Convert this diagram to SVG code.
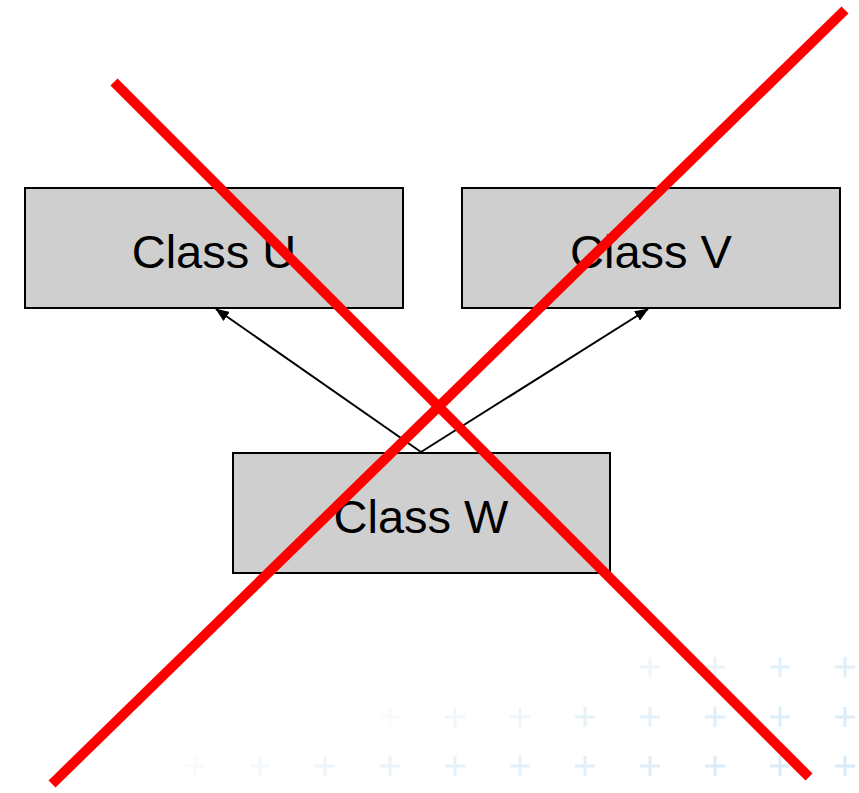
<svg xmlns="http://www.w3.org/2000/svg" width="859" height="793" viewBox="0 0 859 793">
<style>
.box{fill:#cfcfcf;stroke:#000;stroke-width:2}
.lbl{font-family:"Liberation Sans",Arial,sans-serif;font-size:47px;fill:#000;text-anchor:middle}
.edge{stroke:#000;stroke-width:2;fill:none;marker-end:url(#ah)}
.cross{stroke:#ff0000;stroke-width:10;stroke-linecap:butt}
.pl{stroke:#cde6f6;stroke-width:3}
</style>
<defs>
<marker id="ah" viewBox="0 0 14 11" refX="13" refY="5.5" markerWidth="14" markerHeight="11" markerUnits="userSpaceOnUse" orient="auto">
<path d="M0,0 L14,5.5 L0,11 Z" fill="#000"/>
</marker>
<path id="p" d="M-10,0 H10 M0,-10 V10"/>
</defs>
<rect width="859" height="793" fill="#fff"/>
<g id="bg" class="pl">
<use href="#p" x="650" y="667" opacity="0.35"/>
<use href="#p" x="715" y="667" opacity="0.45"/>
<use href="#p" x="780" y="667" opacity="0.55"/>
<use href="#p" x="845" y="667" opacity="0.6"/>
<use href="#p" x="390" y="717" opacity="0.12"/>
<use href="#p" x="455" y="717" opacity="0.28"/>
<use href="#p" x="520" y="717" opacity="0.38"/>
<use href="#p" x="585" y="717" opacity="0.48"/>
<use href="#p" x="650" y="717" opacity="0.55"/>
<use href="#p" x="715" y="717" opacity="0.6"/>
<use href="#p" x="780" y="717" opacity="0.65"/>
<use href="#p" x="845" y="717" opacity="0.7"/>
<use href="#p" x="195" y="766" opacity="0.12"/>
<use href="#p" x="260" y="766" opacity="0.22"/>
<use href="#p" x="325" y="766" opacity="0.32"/>
<use href="#p" x="390" y="766" opacity="0.42"/>
<use href="#p" x="455" y="766" opacity="0.5"/>
<use href="#p" x="520" y="766" opacity="0.55"/>
<use href="#p" x="585" y="766" opacity="0.6"/>
<use href="#p" x="650" y="766" opacity="0.65"/>
<use href="#p" x="715" y="766" opacity="0.7"/>
<use href="#p" x="780" y="766" opacity="0.75"/>
<use href="#p" x="845" y="766" opacity="0.8"/>
</g>
<g id="classU">
<rect class="box" x="25" y="188" width="378" height="120"/>
<text class="lbl" x="214" y="268">Class U</text>
</g>
<g id="classV">
<rect class="box" x="462" y="188" width="378" height="120"/>
<text class="lbl" x="651" y="268">Class V</text>
</g>
<g id="classW">
<rect class="box" x="233" y="453" width="377" height="120"/>
<text class="lbl" x="421" y="533">Class W</text>
</g>
<g id="connectors">
<line class="edge" x1="421" y1="452" x2="216" y2="309"/>
<line class="edge" x1="421" y1="452" x2="648" y2="309"/>
</g>
<g id="cross">
<line class="cross" x1="114" y1="82" x2="809" y2="777"/>
<line class="cross" x1="845" y1="10" x2="52" y2="784"/>
</g>
</svg>
